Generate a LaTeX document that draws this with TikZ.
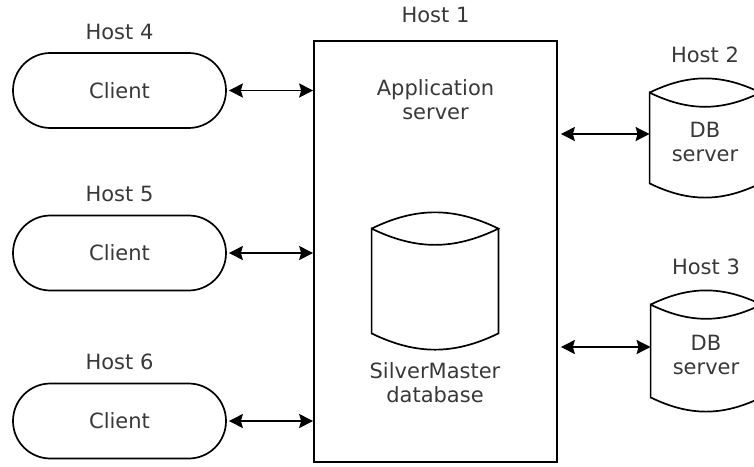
\documentclass[tikz,border=0pt]{standalone}
\usepackage{fontspec}
\setmainfont{DejaVu Sans}
\usetikzlibrary{arrows.meta,positioning}

\tikzset{
  client/.style={rectangle, rounded corners=18.7pt, draw, line width=0.85pt, minimum width=106.5pt, minimum height=37.5pt},
  hostlbl/.style={inner sep=3.5pt},
  dbshape/.style={inner sep=0pt},
  link/.style={{Stealth[length=7pt,width=7pt,inset=1pt]}-{Stealth[length=7pt,width=7pt,inset=1pt]}, line width=0.85pt},
}

\begin{document}
\begin{tikzpicture}[x=0.5pt, y=-0.5pt, font=\fontsize{10.5}{12}\selectfont, text=black!78]
\useasboundingbox (0,0) rectangle (754,466);
\clip (0,0) rectangle (754,466);
% Host 1: application server with the database
\node[draw, line width=0.85pt, minimum width=121.5pt, minimum height=210.5pt] (main) at (435.5,251.5) {};
\node[hostlbl, above=5.2pt of main] (h1) {Host 1};
\node[align=center, below=16pt of main.north] (app) {Application\\server};
\node[dbshape, minimum width=63pt, minimum height=52pt] (smdb) at (435,281) {};
\node[align=center, below=11pt of smdb] (smtxt) {SilverMaster\\database};
% Clients
\foreach \n/\y in {4/90.5, 5/253, 6/421}{
  \node[client] (c\n) at (119.5,\y) {Client};
  \node[hostlbl, above=2.5pt of c\n] (h\n) {Host \n};
  \draw[link, shorten <=1pt] (c\n.east) -- (c\n.east -| main.west);
}
% DB servers
\node[dbshape, minimum width=55pt, minimum height=45pt] (db2) at (705,138) {};
\node[dbshape, minimum width=55pt, minimum height=46pt] (db3) at (706,351) {};
\foreach \n in {2,3}{
  \node[align=center, yshift=-2pt] (db\n txt) at (db\n) {DB\\server};
  \node[hostlbl, above=11.4pt of db\n] (h\n) {Host \n};
  \draw[link, shorten <=1.5pt] ([yshift=2pt]db\n.west -| main.east) -- ([yshift=2pt]db\n.west);
}
% cylinder outlines
\foreach \c in {smdb,db2,db3}{
  \draw[line width=0.85pt] (\c.north west) to[bend left=26] (\c.north east) to[bend left=26] (\c.north west)
    -- (\c.south west) to[bend right=26] (\c.south east) -- (\c.north east);
}
\end{tikzpicture}
\end{document}
